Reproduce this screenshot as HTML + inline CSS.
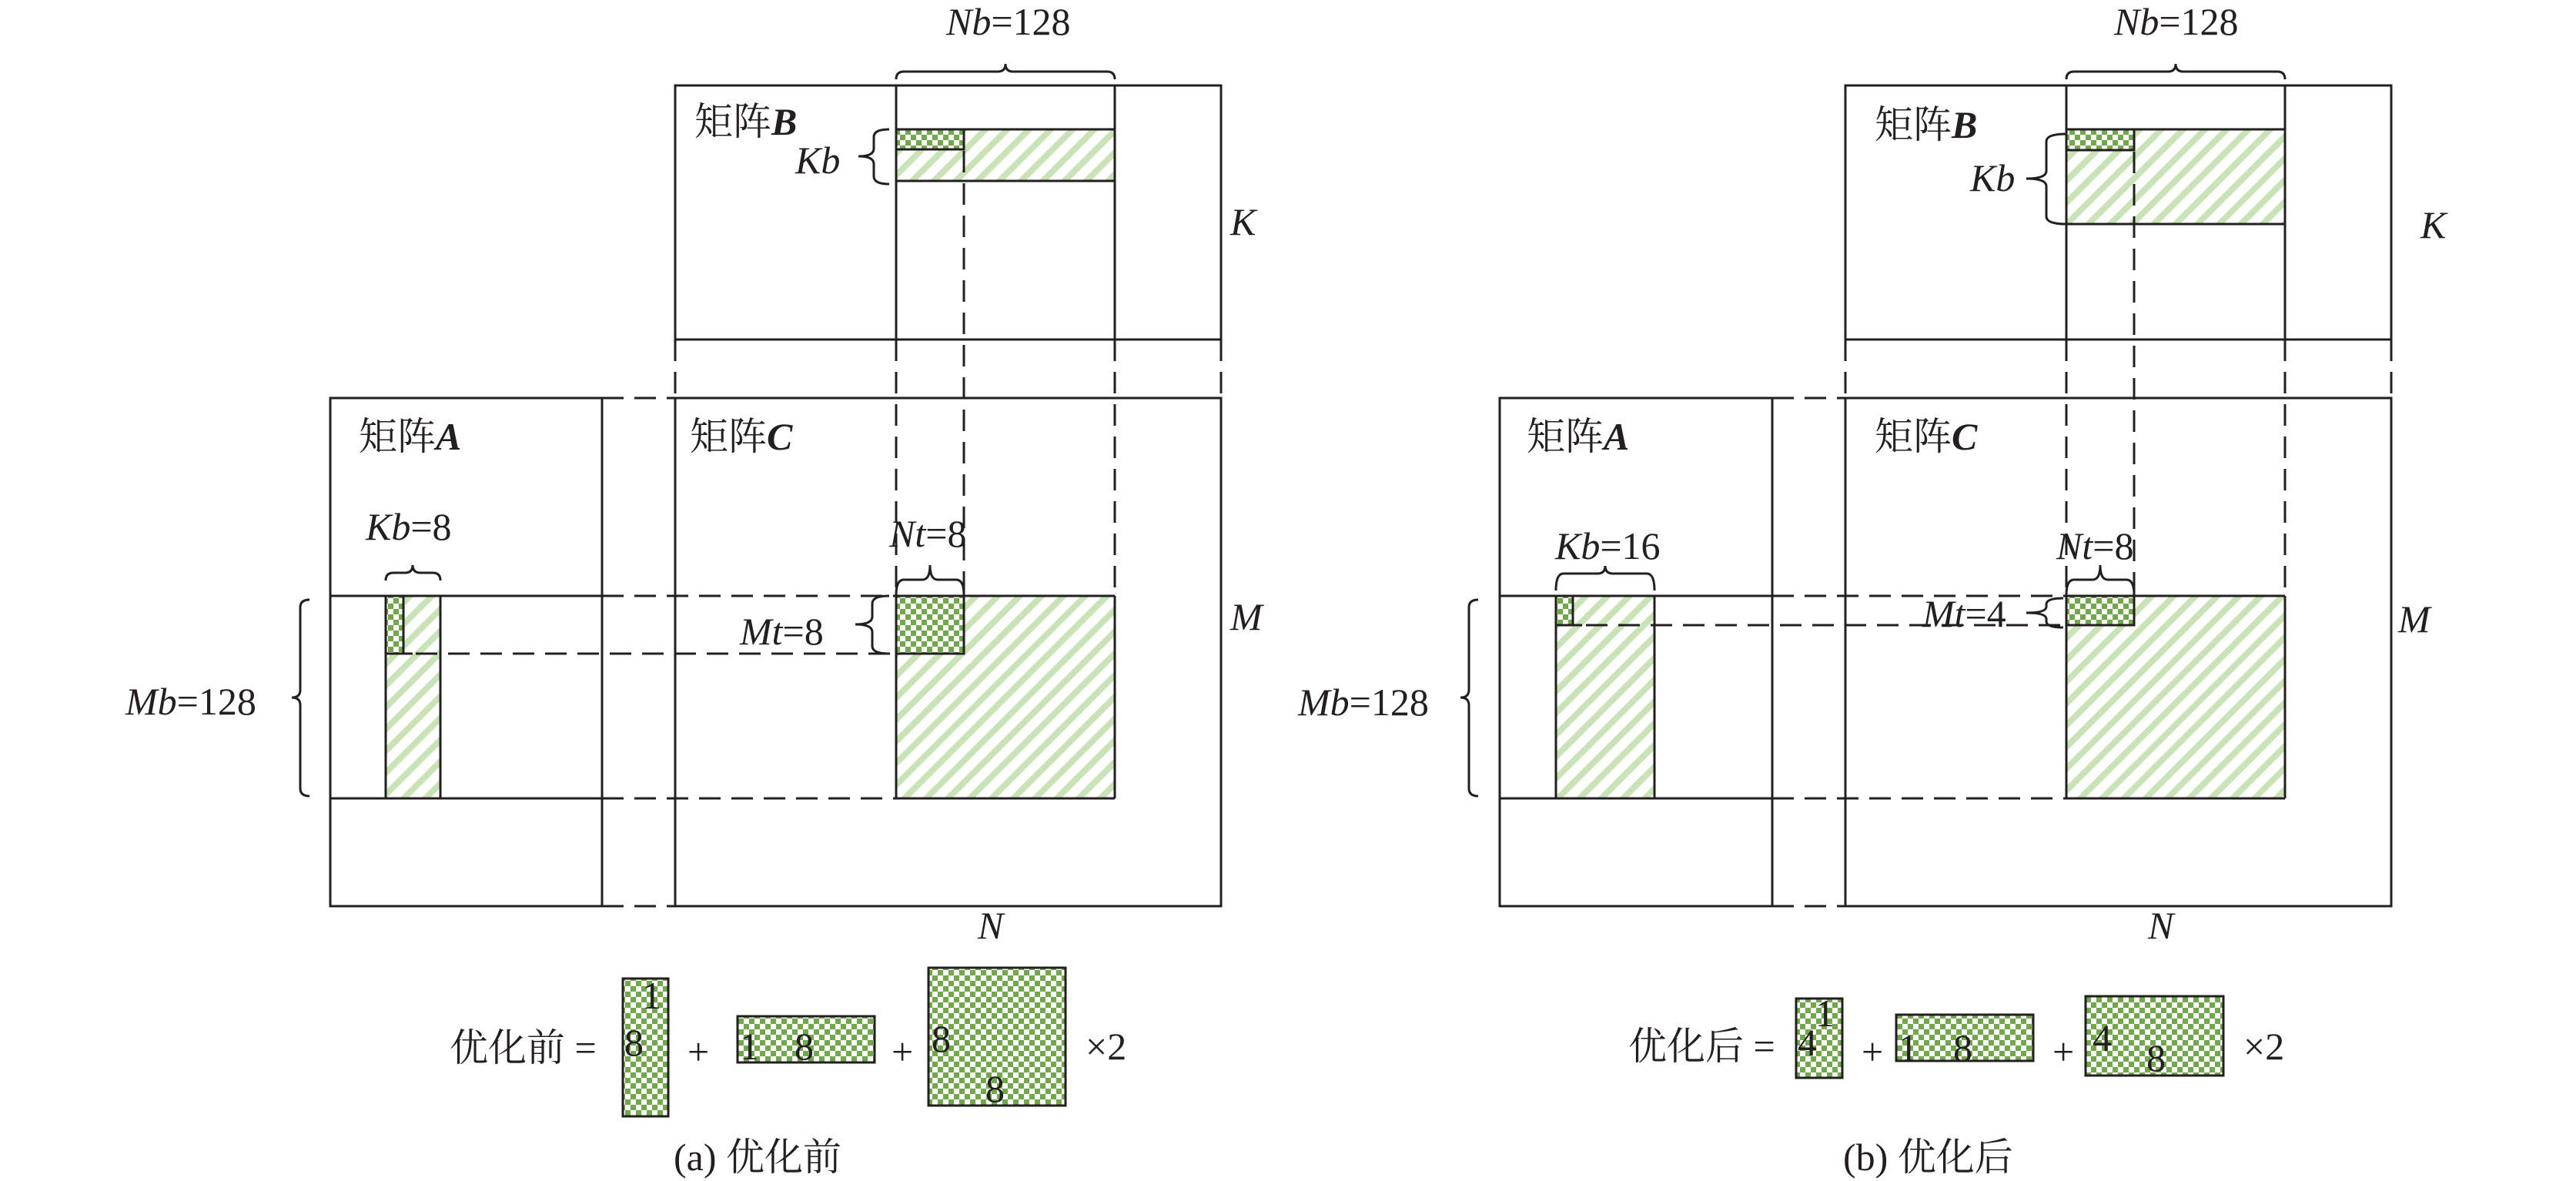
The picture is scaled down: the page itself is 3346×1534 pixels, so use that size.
<!DOCTYPE html>
<html><head><meta charset="utf-8"><style>
html,body{margin:0;padding:0;background:#fff;}
svg{display:block;}
text{font-family:"Liberation Serif","Noto Serif CJK SC","Noto Sans CJK SC",serif;font-size:50px;fill:#231f20;}
.i{font-style:italic;}
.bi{font-style:italic;font-weight:bold;}
</style></head><body>
<svg width="3346" height="1534" viewBox="0 0 3346 1534" xmlns="http://www.w3.org/2000/svg">
<defs>
<pattern id="ck" width="14" height="14" patternUnits="userSpaceOnUse">
<rect width="14" height="14" fill="#fff"/>
<rect width="7" height="7" fill="#6fa94a"/>
<rect x="7" y="7" width="7" height="7" fill="#6fa94a"/>
</pattern>
<pattern id="ht" width="20" height="20" patternUnits="userSpaceOnUse" patternTransform="rotate(45)">
<rect width="20" height="20" fill="#fff"/>
<rect width="8" height="20" fill="#c8e3b6"/>
</pattern>
</defs>
<g stroke="#231f20" stroke-width="3" fill="none">
<!-- ===== LEFT PANEL ===== -->
<!-- B -->
<rect x="1164" y="168" width="284" height="67" fill="url(#ht)" stroke="none"/>
<rect x="1164" y="168" width="88" height="26" fill="url(#ck)"/>
<rect x="877" y="111" width="709" height="330"/>
<line x1="1164" y1="111" x2="1164" y2="441"/>
<line x1="1448" y1="111" x2="1448" y2="441"/>
<line x1="1164" y1="168" x2="1448" y2="168"/>
<line x1="1164" y1="235" x2="1448" y2="235"/>
<!-- C block -->
<rect x="1164" y="774" width="284" height="263" fill="url(#ht)" stroke="none"/>
<line x1="1448" y1="774" x2="1448" y2="1037"/>
<line x1="1164" y1="1037" x2="1448" y2="1037"/>
<line x1="1164" y1="774" x2="1448" y2="774"/>
<line x1="1164" y1="774" x2="1164" y2="1037"/>
<rect x="1164" y="774" width="88" height="75" fill="url(#ck)"/>
<!-- C and A -->
<rect x="877" y="517" width="709" height="660"/>
<rect x="429" y="517" width="353" height="660"/>
<line x1="429" y1="774" x2="782" y2="774"/>
<line x1="429" y1="1037" x2="782" y2="1037"/>
<rect x="501" y="774" width="71" height="263" fill="url(#ht)"/>
<rect x="501" y="774" width="23" height="75" fill="url(#ck)"/>
<line x1="524" y1="849" x2="536" y2="849"/>
<!-- dashes -->
<g stroke-dasharray="28 14">
<line x1="877" y1="441" x2="877" y2="517"/>
<line x1="1586" y1="441" x2="1586" y2="517"/>
<line x1="1164" y1="441" x2="1164" y2="774"/>
<line x1="1448" y1="441" x2="1448" y2="774"/>
<line x1="1252" y1="196" x2="1252" y2="774"/>
<line x1="782" y1="517" x2="877" y2="517"/>
<line x1="782" y1="1177" x2="877" y2="1177"/>
<line x1="782" y1="774" x2="1164" y2="774"/>
<line x1="782" y1="1037" x2="1164" y2="1037"/>
<line x1="540" y1="849" x2="1164" y2="849"/>
</g>
<!-- braces left -->
<path d="M1164,103 Q1164,93 1174,93 L1296,93 Q1306,93 1306,83 Q1306,93 1316,93 L1438,93 Q1448,93 1448,103"/>
<path d="M1155,168 Q1135,168 1135,178 L1135,193 Q1135,203 1115,203 Q1135,203 1135,213 L1135,229 Q1135,239 1155,239"/>
<path d="M501,754 Q501,744 511,744 L526,744 Q536,744 536,734 Q536,744 546,744 L562,744 Q572,744 572,754"/>
<path d="M1164,773 Q1164,753 1174,753 L1198,753 Q1208,753 1208,734 Q1208,753 1218,753 L1242,753 Q1252,753 1252,773"/>
<path d="M1155,774 Q1133,774 1133,784 L1133,801 Q1133,811 1111,811 Q1133,811 1133,821 L1133,839 Q1133,849 1155,849"/>
<path d="M402,779 Q390,779 390,789 L390,896 Q390,906 379,906 Q390,906 390,916 L390,1024 Q390,1034 402,1034"/>
<!-- formula left -->
<rect x="809" y="1271" width="59" height="179" fill="url(#ck)"/>
<rect x="958" y="1320" width="178" height="60" fill="url(#ck)"/>
<rect x="1206" y="1257" width="178" height="179" fill="url(#ck)"/>

<!-- ===== RIGHT PANEL ===== -->
<rect x="2684" y="168" width="284" height="123" fill="url(#ht)" stroke="none"/>
<rect x="2684" y="168" width="88" height="27" fill="url(#ck)"/>
<rect x="2397" y="111" width="709" height="330"/>
<line x1="2684" y1="111" x2="2684" y2="441"/>
<line x1="2968" y1="111" x2="2968" y2="441"/>
<line x1="2684" y1="168" x2="2968" y2="168"/>
<line x1="2684" y1="291" x2="2968" y2="291"/>
<rect x="2684" y="774" width="284" height="263" fill="url(#ht)" stroke="none"/>
<line x1="2968" y1="774" x2="2968" y2="1037"/>
<line x1="2684" y1="1037" x2="2968" y2="1037"/>
<line x1="2684" y1="774" x2="2968" y2="774"/>
<line x1="2684" y1="774" x2="2684" y2="1037"/>
<rect x="2684" y="774" width="88" height="38" fill="url(#ck)"/>
<rect x="2397" y="517" width="709" height="660"/>
<rect x="1948" y="517" width="354" height="660"/>
<line x1="1948" y1="774" x2="2302" y2="774"/>
<line x1="1948" y1="1037" x2="2302" y2="1037"/>
<rect x="2021" y="774" width="128" height="263" fill="url(#ht)"/>
<rect x="2021" y="774" width="22" height="38" fill="url(#ck)"/>
<line x1="2043" y1="812" x2="2055" y2="812"/>
<g stroke-dasharray="28 14">
<line x1="2397" y1="441" x2="2397" y2="517"/>
<line x1="3106" y1="441" x2="3106" y2="517"/>
<line x1="2684" y1="441" x2="2684" y2="774"/>
<line x1="2968" y1="441" x2="2968" y2="774"/>
<line x1="2772" y1="197" x2="2772" y2="774"/>
<line x1="2302" y1="517" x2="2397" y2="517"/>
<line x1="2302" y1="1177" x2="2397" y2="1177"/>
<line x1="2302" y1="774" x2="2684" y2="774"/>
<line x1="2302" y1="1037" x2="2684" y2="1037"/>
<line x1="2060" y1="812" x2="2684" y2="812"/>
</g>
<path d="M2684,103 Q2684,93 2694,93 L2816,93 Q2826,93 2826,83 Q2826,93 2836,93 L2958,93 Q2968,93 2968,103"/>
<path d="M2684,174 Q2658,174 2658,184 L2658,222 Q2658,232 2632,232 Q2658,232 2658,242 L2658,281 Q2658,291 2684,291"/>
<path d="M2021,767 Q2021,745 2031,745 L2075,745 Q2085,745 2085,735 Q2085,745 2095,745 L2139,745 Q2149,745 2149,767"/>
<path d="M2684,773 Q2684,753 2694,753 L2718,753 Q2728,753 2728,734 Q2728,753 2738,753 L2762,753 Q2772,753 2772,773"/>
<path d="M2680,777 Q2658,777 2658,785 L2658,788 Q2658,796 2632,796 Q2658,796 2658,804 L2658,807 Q2658,815 2680,815"/>
<path d="M1920,779 Q1908,779 1908,789 L1908,896 Q1908,906 1897,906 Q1908,906 1908,916 L1908,1024 Q1908,1034 1920,1034"/>
<rect x="2333" y="1297" width="60" height="103" fill="url(#ck)"/>
<rect x="2463" y="1318" width="178" height="60" fill="url(#ck)"/>
<rect x="2709" y="1294" width="179" height="103" fill="url(#ck)"/>
</g>

<!-- ===== TEXT LEFT ===== -->
<text x="1229" y="45"><tspan class="i">Nb</tspan>=128</text>
<text x="902" y="175">矩阵<tspan class="bi">B</tspan></text>
<text x="1033" y="225" class="i">Kb</text>
<text x="1598" y="305" class="i">K</text>
<text x="466" y="584">矩阵<tspan class="bi">A</tspan></text>
<text x="896" y="584">矩阵<tspan class="bi">C</tspan></text>
<text x="475" y="701"><tspan class="i">Kb</tspan>=8</text>
<text x="1155" y="710"><tspan class="i">Nt</tspan>=8</text>
<text x="961" y="837"><tspan class="i">Mt</tspan>=8</text>
<text x="1598" y="818" class="i">M</text>
<text x="1270" y="1219" class="i">N</text>
<text x="163" y="928"><tspan class="i">Mb</tspan>=128</text>
<text x="584" y="1378">优化前 =</text>
<text x="834" y="1310">1</text>
<text x="811" y="1371">8</text>
<text x="893" y="1383">+</text>
<text x="961" y="1376">1</text>
<text x="1032" y="1376">8</text>
<text x="1158" y="1383">+</text>
<text x="1210" y="1366">8</text>
<text x="1280" y="1431">8</text>
<text x="1410" y="1376">×2</text>
<text x="875" y="1520">(a)  优化前</text>

<!-- ===== TEXT RIGHT ===== -->
<text x="2746" y="45"><tspan class="i">Nb</tspan>=128</text>
<text x="2435" y="179">矩阵<tspan class="bi">B</tspan></text>
<text x="2559" y="248" class="i">Kb</text>
<text x="3144" y="309" class="i">K</text>
<text x="1983" y="584">矩阵<tspan class="bi">A</tspan></text>
<text x="2435" y="584">矩阵<tspan class="bi">C</tspan></text>
<text x="2020" y="726"><tspan class="i">Kb</tspan>=16</text>
<text x="2671" y="726"><tspan class="i">Nt</tspan>=8</text>
<text x="2497" y="814"><tspan class="i">Mt</tspan>=4</text>
<text x="3115" y="821" class="i">M</text>
<text x="2790" y="1219" class="i">N</text>
<text x="1686" y="929"><tspan class="i">Mb</tspan>=128</text>
<text x="2115" y="1376">优化后 =</text>
<text x="2358" y="1333">1</text>
<text x="2335" y="1371">4</text>
<text x="2418" y="1383">+</text>
<text x="2466" y="1378">1</text>
<text x="2537" y="1378">8</text>
<text x="2666" y="1383">+</text>
<text x="2718" y="1365">4</text>
<text x="2788" y="1391">8</text>
<text x="2914" y="1376">×2</text>
<text x="2394" y="1520">(b)  优化后</text>
</svg>
</body></html>
